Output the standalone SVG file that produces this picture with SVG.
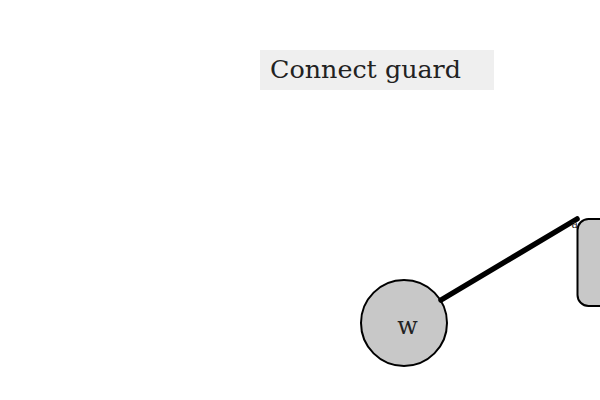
<svg xmlns="http://www.w3.org/2000/svg" width="600" height="400" viewBox="0 0 600 400">
<style>
.node{fill:#c8c8c8;stroke:#000;stroke-width:2}
.lbl{font-family:"DejaVu Serif","Liberation Serif",serif;fill:#222}
.edge{stroke:#000;stroke-width:5.5;stroke-linecap:round;fill:none}
</style>
<rect width="600" height="400" fill="#fff"/>
<g id="title">
<rect x="260" y="50" width="234" height="40" fill="#efefef"/>
<text class="lbl" x="270" y="78" font-size="25" textLength="191" lengthAdjust="spacingAndGlyphs">Connect guard</text>
</g>
<g id="node-w">
<circle class="node" cx="404" cy="323" r="43"/>
<text class="lbl" x="407.5" y="334" font-size="24" text-anchor="middle">w</text>
</g>
<g id="node-right">
<rect class="node" x="577.5" y="219" width="60" height="87" rx="11"/>
</g>
<g id="connectors">
<line class="edge" x1="441" y1="300" x2="577" y2="219"/>
<text class="lbl" x="571.5" y="228" font-size="11" fill="#000">a</text>
</g>
</svg>
